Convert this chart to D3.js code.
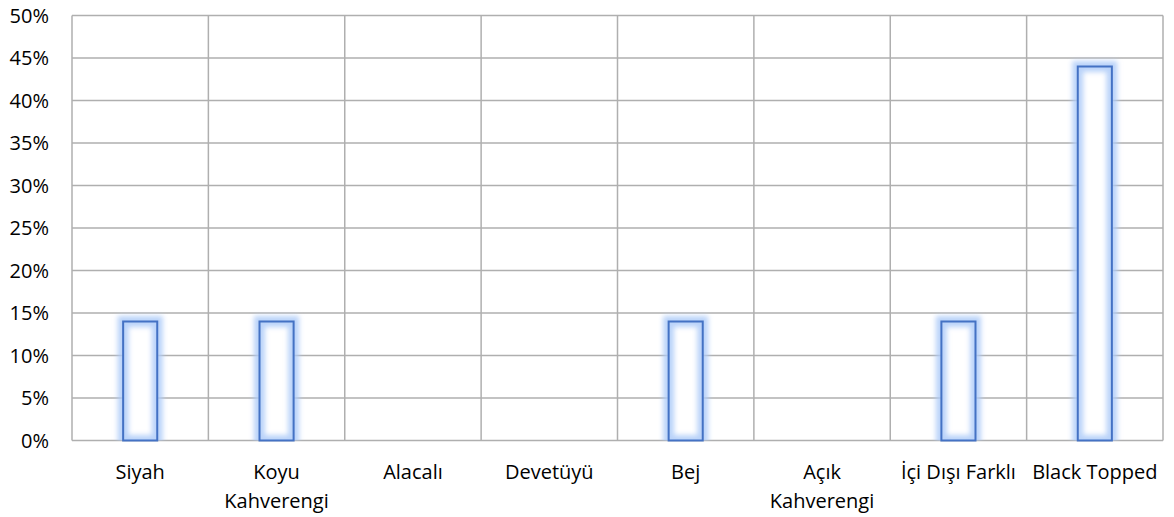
<!DOCTYPE html>
<html><head><meta charset="utf-8">
<script src="https://cdn.jsdelivr.net/npm/d3@7"></script>
<style>
body{margin:0;background:#fff;}
svg{display:block;font-family:"Open Sans",sans-serif;}
</style></head>
<body><svg id="c" width="1174" height="517"></svg>
<script>
const categories = [["Siyah"],["Koyu","Kahverengi"],["Alacalı"],["Devetüyü"],["Bej"],["Açık","Kahverengi"],["İçi Dışı Farklı"],["Black Topped"]];
const values = [14,14,0,0,14,0,14,44];
const yTicks = [0,5,10,15,20,25,30,35,40,45,50];

const svg = d3.select("#c");
const L=72, R=1163, T=15.5, B=440.5;
const x = d3.scaleBand().domain(categories.map((d,i)=>i)).range([L,R]).paddingInner(0).paddingOuter(0);
const y = d3.scaleLinear().domain([0,50]).range([B,T]);

const defs = svg.append("defs");
const f = defs.append("filter").attr("id","glow").attr("x","-50%").attr("y","-20%").attr("width","200%").attr("height","140%");
f.append("feGaussianBlur").attr("stdDeviation",2.6);
const clip = defs.append("clipPath").attr("id","plotclip");
clip.append("rect").attr("x",0).attr("y",0).attr("width",1174).attr("height",B);

const grid = svg.append("g");
grid.selectAll("line.h").data(yTicks).join("line")
  .attr("x1",L).attr("x2",R).attr("y1",d=>y(d)).attr("y2",d=>y(d))
  .attr("stroke","#afafaf").attr("stroke-width",1.5);
const vb = categories.map((d,i)=>x(i)).concat([R]);
grid.selectAll("line.v").data(vb).join("line")
  .attr("x1",d=>d).attr("x2",d=>d).attr("y1",T).attr("y2",B)
  .attr("stroke","#afafaf").attr("stroke-width",1.5);

// y axis labels
svg.append("g").selectAll("text").data(yTicks).join("text")
  .attr("x",49).attr("y",d=>y(d)+7.3).attr("text-anchor","end")
  .attr("font-size",20).attr("fill","#000").text(d=>d+"%");

const bw = x.bandwidth()*0.25;
const bars = svg.append("g").selectAll("g").data(values.map((v,i)=>({v,i})).filter(d=>d.v>0)).join("g");
bars.append("rect").attr("x",d=>x(d.i)+x.bandwidth()/2-bw/2).attr("y",d=>y(d.v)).attr("width",bw).attr("height",d=>B-y(d.v))
  .attr("fill","#fff");
bars.append("g").attr("clip-path","url(#plotclip)").append("rect")
  .attr("x",d=>x(d.i)+x.bandwidth()/2-bw/2).attr("y",d=>y(d.v)).attr("width",bw).attr("height",d=>B-y(d.v))
  .attr("fill","none").attr("stroke","#aecbf8").attr("stroke-width",11).attr("stroke-opacity",0.85).attr("filter","url(#glow)");
bars.append("rect").attr("x",d=>x(d.i)+x.bandwidth()/2-bw/2).attr("y",d=>y(d.v)).attr("width",bw).attr("height",d=>B-y(d.v))
  .attr("fill","none").attr("stroke","#4472c4").attr("stroke-width",2);

// x labels
const xl = svg.append("g").selectAll("text").data(categories).join("text")
  .attr("x",(d,i)=>x(i)+x.bandwidth()/2).attr("y",479).attr("text-anchor","middle")
  .attr("font-size",20).attr("fill","#000");
xl.selectAll("tspan").data(d=>d).join("tspan")
  .attr("x",function(){return d3.select(this.parentNode).attr("x");})
  .attr("dy",(d,j)=>j?29:0).text(d=>d);
</script></body></html>
